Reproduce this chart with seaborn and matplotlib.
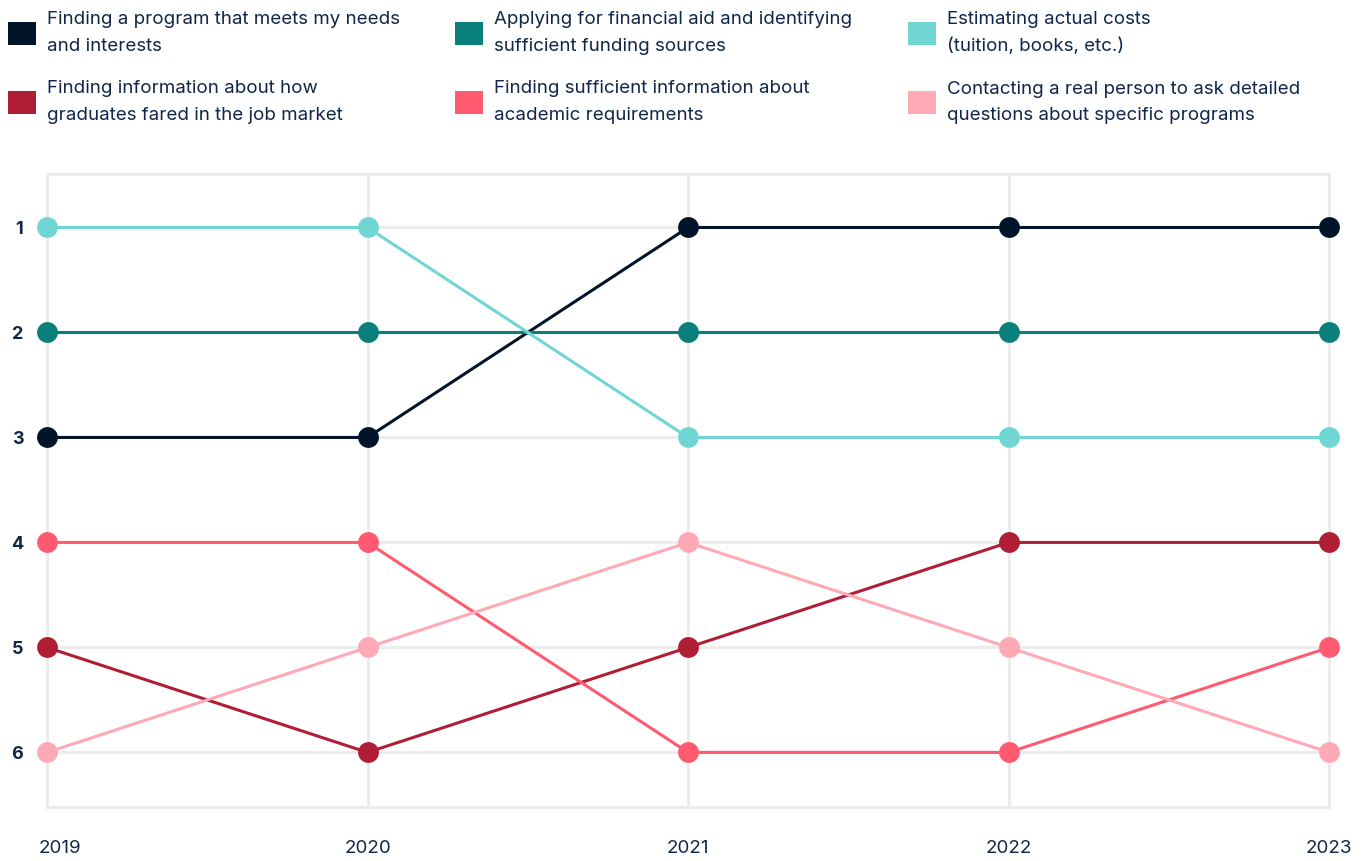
import pandas as pd
import numpy as np
import matplotlib.pyplot as plt
import matplotlib.transforms as mtransforms
import seaborn as sns
from matplotlib.patches import Patch

years = [2019, 2020, 2021, 2022, 2023]

program_needs = [3, 3, 1, 1, 1]
financial_aid = [2, 2, 2, 2, 2]
actual_costs = [1, 1, 3, 3, 3]
job_market = [5, 6, 5, 4, 4]
academic_req = [4, 4, 6, 6, 5]
real_person = [6, 5, 4, 5, 6]

labels = [
    "Finding a program that meets my needs\nand interests",
    "Applying for financial aid and identifying\nsufficient funding sources",
    "Estimating actual costs\n(tuition, books, etc.)",
    "Finding information about how\ngraduates fared in the job market",
    "Finding sufficient information about\nacademic requirements",
    "Contacting a real person to ask detailed\nquestions about specific programs",
]
series = [program_needs, financial_aid, actual_costs, job_market, academic_req, real_person]
colors = ["#011429", "#0a807c", "#70d6d4", "#b01e35", "#ff5a70", "#ffa9b4"]

rows = []
for lab, vals in zip(labels, series):
    for y, v in zip(years, vals):
        rows.append({"year": y, "rank": v, "item": lab})
df = pd.DataFrame(rows)

sns.set_style("white")
plt.rcParams['font.family'] = ['Inter', 'DejaVu Sans']
text_color = "#10264a"
grid_color = "#ececec"

fig = plt.figure(figsize=(13.66, 8.61), dpi=100)
ax = fig.add_axes([0.0344, 0.0627, 0.9386, 0.7353])

for x in years:
    ax.axvline(x, color=grid_color, lw=2.2, zorder=0)
for r in range(1, 7):
    ax.axhline(r, color=grid_color, lw=2.2, zorder=0)

sns.lineplot(data=df, x="year", y="rank", hue="item", hue_order=labels,
             palette=dict(zip(labels, colors)), marker="o", markersize=15,
             markeredgewidth=0, linewidth=2.2, legend=False, ax=ax,
             clip_on=False, zorder=3)

ax.set_xlim(2019, 2023)
ax.set_ylim(6.52, 0.49)
ax.set_xticks(years)
ax.set_xticklabels([str(y) for y in years])
ax.set_yticks(range(1, 7))
ax.set_xlabel("")
ax.set_ylabel("")
ax.tick_params(axis="x", length=0, pad=24, labelsize=13.5, labelcolor=text_color)
ax.tick_params(axis="y", length=0, pad=17, labelsize=13, labelcolor=text_color)
for t in ax.get_yticklabels():
    t.set_fontweight("bold")
# nudge the first year label inward like the original
xl = ax.get_xticklabels()
xl[0].set_transform(xl[0].get_transform() + mtransforms.ScaledTranslation(0.13, 0, fig.dpi_scale_trans))
for s in ax.spines.values():
    s.set_color(grid_color)
    s.set_linewidth(2.2)

# legend in 3 columns, filled column-wise
order = [0, 3, 1, 4, 2, 5]
handles = [Patch(facecolor=colors[i], edgecolor="none") for i in order]
leg = fig.legend(handles, [labels[i] for i in order], ncol=3, loc="upper left",
                 bbox_to_anchor=(8 / 1366, 1 - 11 / 861), frameon=False, fontsize=13.5,
                 labelcolor=text_color, handlelength=1.5, handleheight=1.5,
                 handletextpad=0.58, columnspacing=2.95, labelspacing=1.35,
                 borderaxespad=0, borderpad=0)
for t in leg.get_texts():
    t.set_linespacing(1.74)

fig.savefig("out.png", dpi=100)
